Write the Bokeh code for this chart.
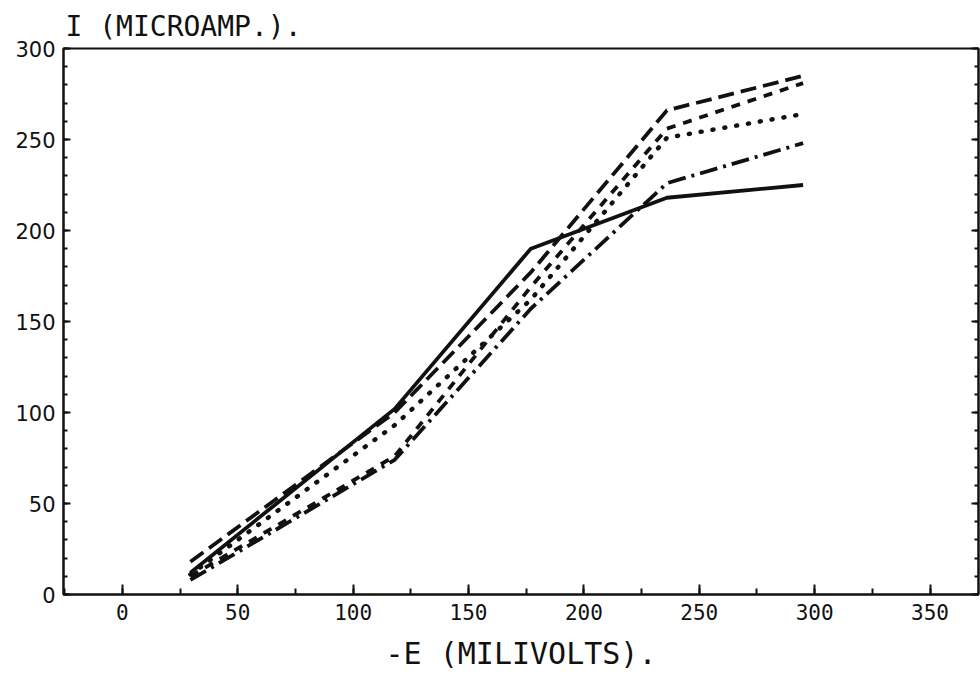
from bokeh.plotting import figure
from bokeh.models import Range1d, LinearAxis, SingleIntervalTicker, Title, CustomJSTickFormatter, ColumnDataSource
from bokeh.embed import file_html
from bokeh.resources import INLINE

# Data
E_mv = [29.5, 118, 177, 236, 295]
I_solid = [12, 102, 190, 218, 225]
I_long_dash = [18, 100, 177, 266, 285]
I_short_dash = [10, 76, 169, 256, 281]
I_dotted = [11, 93, 162, 251, 264]
I_dash_dot = [8, 74, 157, 226, 248]

x_label = "-E (MILIVOLTS)."
y_label = "I (MICROAMP.)."

FONT = "DejaVu Sans Mono"
SANS = "DejaVu Sans"
INK = "#111111"

p = figure(width=980, height=673, x_range=Range1d(-25.5, 371), y_range=Range1d(0, 300),
           output_backend="svg", toolbar_location=None,
           x_axis_type=None, y_axis_type=None,
           min_border_left=63, min_border_right=2, min_border_top=48, min_border_bottom=78)
p.outline_line_color = INK
p.outline_line_width = 2
p.background_fill_color = "white"
p.border_fill_color = "white"

def style_axis(ax):
    ax.axis_line_color = INK
    ax.axis_line_width = 2
    ax.major_tick_line_color = INK
    ax.minor_tick_line_color = INK
    ax.major_tick_line_width = 2
    ax.minor_tick_line_width = 2
    ax.major_tick_out = 0
    ax.minor_tick_out = 0
    ax.major_label_text_color = INK

xaxis = LinearAxis(ticker=SingleIntervalTicker(interval=50, num_minor_ticks=2), axis_label=x_label)
style_axis(xaxis)
xaxis.major_tick_in = 10
xaxis.minor_tick_in = 6
xaxis.major_label_text_font = FONT
xaxis.major_label_text_font_size = "21px"
xaxis.major_label_standoff = 9
xaxis.axis_label_text_font = FONT
xaxis.axis_label_text_font_size = "30px"
xaxis.axis_label_text_font_style = "normal"
xaxis.axis_label_text_color = INK
xaxis.axis_label_standoff = 13
p.add_layout(xaxis, "below")

yaxis = LinearAxis(ticker=SingleIntervalTicker(interval=50, num_minor_ticks=5))
style_axis(yaxis)
yaxis.major_tick_in = 7
yaxis.minor_tick_in = 4
yaxis.major_label_text_font = SANS
yaxis.major_label_text_font_size = "21px"
yaxis.major_label_standoff = 8
p.add_layout(yaxis, "left")

raxis = LinearAxis(ticker=SingleIntervalTicker(interval=50, num_minor_ticks=5),
                   formatter=CustomJSTickFormatter(code="return ''"))
style_axis(raxis)
raxis.major_tick_in = 7
raxis.minor_tick_in = 4
raxis.major_label_standoff = 0
raxis.major_label_text_font_size = "1px"
p.add_layout(raxis, "right")

p.add_layout(Title(text=y_label, align="left", offset=2, text_font=FONT, text_font_size="28px",
                   text_font_style="normal", text_color=INK, standoff=11), "above")

src = ColumnDataSource(dict(e=E_mv, solid=I_solid, ld=I_long_dash, sd=I_short_dash,
                            dot=I_dotted, dd=I_dash_dot))
lw = 3.8
p.line("e", "solid", source=src, line_color=INK, line_width=lw, line_join="round")
p.line("e", "ld", source=src, line_color=INK, line_width=lw, line_dash="16 7", line_join="round")
p.line("e", "sd", source=src, line_color=INK, line_width=lw, line_dash="9 8", line_join="round")
p.line("e", "dot", source=src, line_color=INK, line_width=4.5, line_dash="1 11", line_cap="round")
p.line("e", "dd", source=src, line_color=INK, line_width=lw, line_dash="18 6 3 6", line_join="round")

open("out.html", "w").write(file_html(p, INLINE))
